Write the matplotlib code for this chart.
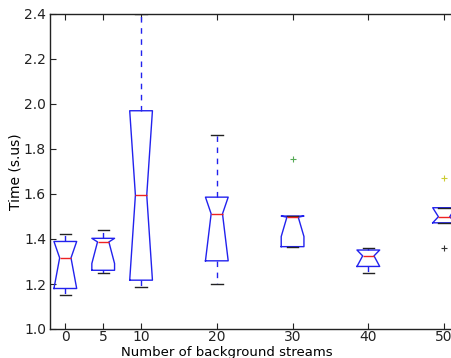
import matplotlib
matplotlib.use("Agg")
import matplotlib.pyplot as plt

positions = [0, 5, 10, 20, 30, 40, 50]
medians = [1.316, 1.387, 1.595, 1.512, 1.497, 1.325, 1.499]
q1 = [1.180, 1.261, 1.217, 1.303, 1.366, 1.278, 1.472]
q3 = [1.389, 1.403, 1.970, 1.586, 1.502, 1.351, 1.539]
whislo = [1.150, 1.248, 1.185, 1.199, 1.366, 1.248, 1.472]
whishi = [1.421, 1.442, 2.398, 1.861, 1.502, 1.362, 1.539]
cilo = [1.180, 1.291, 1.217, 1.303, 1.411, 1.278, 1.472]
cihi = [1.389, 1.403, 1.970, 1.586, 1.502, 1.351, 1.539]
flier_points = [(30, 1.757, "#55aa55"), (50, 1.669, "#cccc33"), (50, 1.362, "#333333")]
xticks = [0, 5, 10, 20, 30, 40, 50]
yticks = [1.0, 1.2, 1.4, 1.6, 1.8, 2.0, 2.2, 2.4]

fig = plt.figure(figsize=(4.52, 3.58), dpi=100)
ax = fig.add_axes([0.111, 1 - 329 / 358, 0.905, 315 / 358])

stats = []
for i in range(len(positions)):
    stats.append(dict(med=medians[i], q1=q1[i], q3=q3[i], whislo=whislo[i],
                      whishi=whishi[i], cilo=cilo[i], cihi=cihi[i], fliers=[]))

ax.bxp(stats, positions=positions, widths=3, shownotches=True, showfliers=False,
       boxprops=dict(color="#2222ee", linewidth=1.0),
       medianprops=dict(color="#ee2222", linewidth=1.0),
       whiskerprops=dict(color="#2222ee", linestyle=(0, (4, 4)), linewidth=1.0),
       capprops=dict(color="#222222", linewidth=1.0),
       manage_ticks=False)

for x, y, c in flier_points:
    ax.plot([x], [y], marker="+", color=c, markersize=5, linestyle="none", markeredgewidth=0.8)

ax.set_xlim(-2, 52)
ax.set_ylim(1.0, 2.4)
ax.set_xticks(xticks)
ax.set_xticklabels([str(t) for t in xticks])
ax.set_yticks(yticks)
ax.set_yticklabels(["%.1f" % t for t in yticks])
ax.tick_params(direction="in", top=True, right=True, labelsize=10, length=4, colors="#222222")
ax.tick_params(axis="x", pad=0.5)
ax.tick_params(axis="y", pad=3)
for s in ax.spines.values():
    s.set_color("#222222")
    s.set_linewidth(1.0)
ax.set_xlabel("Number of background streams", fontsize=9.5)
ax.xaxis.set_label_coords(0.432, -0.053)
ax.set_ylabel("Time (s.us)", fontsize=10, labelpad=1)

fig.savefig("out.png", dpi=100)
